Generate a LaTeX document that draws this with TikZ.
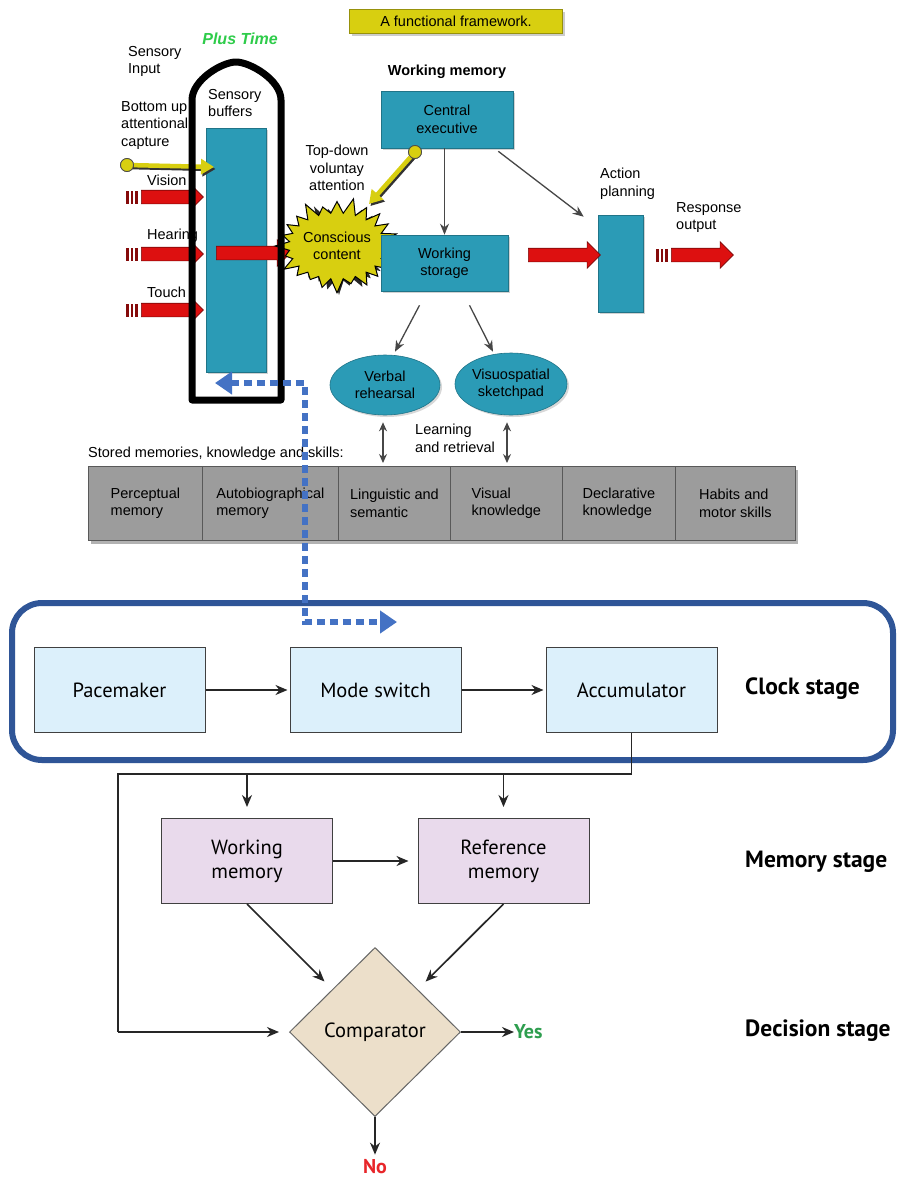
\documentclass[tikz,border=0pt]{standalone}
\usepackage{fontspec}
\setmainfont{Liberation Sans}
\newfontfamily\condsans{PT Sans}
\usetikzlibrary{shapes.geometric,shapes.symbols,shapes.arrows,arrows.meta,shadows,calc}

\definecolor{tealC}{HTML}{2B9BB6}
\definecolor{sunC}{HTML}{D8CF10}
\definecolor{redC}{HTML}{DD1010}
\definecolor{dotC}{HTML}{4472C4}
\definecolor{frameC}{HTML}{2F5597}
\definecolor{skyC}{HTML}{DCF0FB}
\definecolor{lilacC}{HTML}{E9DAEC}
\definecolor{sandC}{HTML}{ECDFCA}
\definecolor{bandC}{HTML}{9C9C9C}
\definecolor{plusC}{HTML}{2ECC4A}
\definecolor{yesC}{HTML}{2E9E4F}
\definecolor{noC}{HTML}{E8262A}

\tikzset{
  txt/.style={font=\fontsize{14.5}{17.5}\selectfont, align=left, inner sep=0pt},
  tealbox/.style={fill=tealC, draw=tealC!75!black, line width=0.6pt,
    drop shadow={opacity=0.35, shadow xshift=2pt, shadow yshift=-2pt},
    font=\fontsize{14.5}{17.5}\selectfont, align=center, inner sep=0pt},
  cell/.style={fill=bandC, draw=black!65, line width=0.8pt, minimum height=74pt,
    font=\fontsize{14.5}{17.5}\selectfont, align=left, inner sep=0pt},
  redarrow/.style={single arrow, single arrow head extend=6.5pt, single arrow head indent=0pt,
    inner xsep=0pt, inner ysep=6.5pt, fill=redC, draw=redC!55!black, line width=0.6pt},
  garrow/.style={draw=black!72, line width=1.3pt, -{Stealth[length=11pt,width=9pt]}},
  dgarrow/.style={draw=black!72, line width=1.3pt, {Stealth[length=9pt,width=8pt]}-{Stealth[length=9pt,width=8pt]}},
  sunball/.style={circle, fill=sunC, draw=black!70, line width=0.8pt, minimum size=13pt, inner sep=0pt},
  sunline/.style={line width=4.5pt, draw=sunC, -{Triangle[length=13pt,width=15pt]}},
  sunshade/.style={line width=4.5pt, draw=black!80, -{Triangle[length=13pt,width=15pt]}},
  bluedot/.style={draw=dotC, line width=6pt, dash pattern=on 8pt off 5pt,
    {Triangle[length=17pt,width=22pt]}-{Triangle[length=17pt,width=22pt]}},
  clockbox/.style={fill=skyC, draw=black!75, line width=1pt, minimum width=171pt, minimum height=85pt,
    font=\condsans\fontsize{20.5}{24}\selectfont, align=center, inner sep=0pt},
  membox/.style={clockbox, fill=lilacC, minimum height=85pt},
  stage/.style={font=\condsans\bfseries\fontsize{23.5}{26}\selectfont, anchor=west, inner sep=0pt},
  karrow/.style={draw=black!85, line width=1.7pt, -{Stealth[length=12pt,width=10pt]}},
  kline/.style={draw=black!85, line width=1.7pt},
  burst/.style={starburst, starburst points=24, starburst point height=16pt,
    minimum width=102pt, minimum height=98pt, inner sep=0pt}
}

\begin{document}
\begin{tikzpicture}[x=1pt,y=-1pt]
\useasboundingbox[fill=white] (0,0) rectangle (902,1179);

% ---------- functional framework (upper part) ----------
\node[fill=sunC, draw=sunC!70!black, line width=0.6pt, minimum width=213pt, minimum height=24pt,
  drop shadow={opacity=0.4, shadow xshift=2pt, shadow yshift=-3pt},
  font=\fontsize{14.5}{16}\selectfont] (title) at (456,21) {A functional framework.};

\node[font=\bfseries\itshape\fontsize{16}{18}\selectfont, text=plusC, inner sep=0pt] (plus) at (240,39) {Plus Time};

\node[txt, anchor=north west] (sensin) at (128,46) {Sensory\\Input};
\node[txt, anchor=north west] (bottomup) at (121,101) {Bottom up\\attentional\\capture};

% sensory buffers
\node[tealbox, minimum width=60pt, minimum height=244pt] (buf) at (236,250) {};
\node[txt, anchor=north west] (buflbl) at (208,89) {Sensory\\buffers};

% sensory inputs
\node[txt, anchor=west] (vislbl) at (147,180) {Vision};
\node[txt, anchor=west] (hearlbl) at (147,236) {Hearing};
\node[txt, anchor=west] (touchlbl) at (147,292) {Touch};
\node[redarrow, minimum height=62pt] (vis) at (169,197) {};
\node[redarrow, minimum height=62pt] (hear) at (169,254) {};
\node[redarrow, minimum height=62pt] (touch) at (169,310) {};
\foreach \yy in {197,254,310}{
  \foreach \xx in {126,130.5,135}{
    \fill[redC!60!black] (\xx,\yy-6.5) rectangle ++(2.6,13);
  }
}

% bottom-up capture
\node[sunball] (ballA) at (127,165) {};
\coordinate (tipA) at (214,167);
\draw[sunshade] ($(ballA)+(1.5,2)$) -- ($(tipA)+(1.5,2)$);
\draw[sunline] (ballA) -- (tipA);
\node[sunball] at (ballA) {};

% buffers -> conscious content
\node[redarrow, minimum height=74pt] (bufout) at (250,253) {};

% conscious content
\node[burst, fill=black!85] (ccshade) at (339,248) {};
\node[burst, fill=sunC, draw=black, line width=1pt, align=center,
  font=\fontsize{14.5}{17.5}\selectfont] (cc) at (337,246) {Conscious\\content};

\node[txt, align=center, anchor=center] (topdown) at (337,168) {Top-down\\voluntay\\attention};

% working memory
\node[font=\bfseries\fontsize{14.5}{16}\selectfont, inner sep=0pt] (wmlbl) at (447,72) {Working memory};
\node[tealbox, minimum width=132pt, minimum height=57pt] (ce) at (447,119.5) {Central\\executive};
\node[tealbox, minimum width=127pt, minimum height=56pt] (ws) at (444.5,263) {Working\\storage};

\draw[garrow] (ws.north |- ce.south) -- (ws.north);

% top-down attention
\node[sunball] (ballB) at (415,152) {};
\coordinate (tipB) at (369,204);
\draw[sunshade] ($(ballB)+(1.5,2)$) -- ($(tipB)+(1.5,2)$);
\draw[sunline] (ballB) -- (tipB);
\node[sunball] at (ballB) {};

% action planning
\node[tealbox, minimum width=45pt, minimum height=97pt] (ap) at (620.5,263.5) {};
\node[txt, anchor=north west] (aplbl) at (600,168) {Action\\planning};
\draw[garrow] ($(ce.south east)+(-15,3)$) -- ($(ap.north west)+(-14,2)$);
\node[redarrow, minimum height=72pt] (wsout) at (561,255) {};

% response output
\node[txt, anchor=north west] (resplbl) at (676,202) {Response\\output};
\node[redarrow, minimum height=62pt] (resp) at (699,255) {};
\foreach \xx in {656,660.5,665}{
  \fill[redC!60!black] (\xx,248.5) rectangle ++(2.6,13);
}

% rehearsal loops
\node[ellipse, fill=tealC, draw=tealC!75!black, line width=0.6pt, minimum width=110pt, minimum height=60pt,
  drop shadow={opacity=0.3, shadow xshift=2pt, shadow yshift=-2pt},
  font=\fontsize{14.5}{17.5}\selectfont, align=center, inner sep=0pt] (vr) at (385,385) {Verbal\\rehearsal};
\node[ellipse, fill=tealC, draw=tealC!75!black, line width=0.6pt, minimum width=112pt, minimum height=62pt,
  drop shadow={opacity=0.3, shadow xshift=2pt, shadow yshift=-2pt},
  font=\fontsize{14.5}{17.5}\selectfont, align=center, inner sep=0pt] (vs) at (511,384) {Visuospatial\\sketchpad};
\draw[garrow] ($(ws.south)+(-25,14)$) -- ($(vr.north)+(10,-3)$);
\draw[garrow] ($(ws.south)+(25,14)$) -- ($(vs.north)+(-18,-1)$);

% stored memories
\node[txt, anchor=west] (storedlbl) at (88,454) {Stored memories, knowledge and skills:};
\node[txt, anchor=north west] (lr) at (415,424) {Learning\\and retrieval};

\fill[black, opacity=0.3] (91,470) rectangle (798,544);
\node[cell, minimum width=114pt, anchor=north west] (c1) at (88,466) {Perceptual\\memory};
\node[cell, minimum width=136pt, anchor=north west] (c2) at (202,466) {Autobiographical\\memory};
\node[cell, minimum width=112pt, anchor=north west] (c3) at (338,466) {Linguistic and\\semantic};
\node[cell, minimum width=112pt, anchor=north west] (c4) at (450,466) {Visual\\knowledge};
\node[cell, minimum width=113pt, anchor=north west] (c5) at (562,466) {Declarative\\knowledge};
\node[cell, minimum width=120pt, anchor=north west] (c6) at (675,466) {Habits and\\motor skills};

\coordinate (vrb) at ($(vr.south)+(-2,0)$);
\coordinate (vsb) at ($(vs.south)+(-4,0)$);
\draw[dgarrow, shorten <=7pt, shorten >=3pt] (vrb) -- (vrb |- c3.north);
\draw[dgarrow, shorten <=7pt, shorten >=3pt] (vsb) -- (vsb |- c4.north);

% sensory buffer outline
\draw[line width=7pt, line join=round] (192,400) -- (192,100)
  .. controls (192,80) and (222,62) .. (236,62)
  .. controls (250,62) and (281,80) .. (281,100) -- (281,400) -- cycle;

% ---------- clock model (lower part) ----------
\node[draw=frameC, line width=6pt, rounded corners=30pt, minimum width=881pt, minimum height=157pt] (frame) at (452.5,681.5) {};

\node[clockbox] (pace) at (119.5,690) {Pacemaker};
\node[clockbox] (mode) at (375.5,690) {Mode switch};
\node[clockbox] (acc) at (631.5,690) {Accumulator};
\draw[karrow, shorten >=2pt] (pace) -- (mode);
\draw[karrow, shorten >=2pt] (mode) -- (acc);
\node[stage] (clocklbl) at (745,689) {Clock stage};

% time signal linking both parts
\coordinate (bufin) at (215,383);
\coordinate (bendA) at (305,383);
\coordinate (bendB) at (305,622);
\coordinate (clockin) at (397,622);
\draw[bluedot] (bufin) -- (bendA) -- (bendB) -- (clockin);

\node[membox] (wm) at (247,861) {Working\\memory};
\node[membox] (rm) at (503.5,861) {Reference\\memory};
\node[stage] (memlbl) at (745,862) {Memory stage};

\node[diamond, fill=sandC, draw=black!60, line width=1pt, minimum width=171pt, minimum height=169pt,
  inner sep=0pt, font=\condsans\fontsize{20.5}{24}\selectfont] (comp) at (375,1032) {Comparator};
\node[stage] (declbl) at (745,1031) {Decision stage};

\coordinate (feedA) at (118,774);
\draw[kline] (acc.south) |- (feedA) -- (feedA |- comp.west);
\draw[karrow, shorten >=10pt] (feedA |- comp.west) -- (comp.west);
\draw[karrow, shorten >=11pt] (wm.north |- feedA) -- (wm.north);
\draw[karrow, shorten >=11pt] (rm.north |- feedA) -- (rm.north);
\draw[karrow, shorten >=9pt] (wm) -- (rm);
\draw[karrow, shorten >=11pt] (wm.south) -- (comp);
\draw[karrow, shorten >=11pt] (rm.south) -- (comp);

\node[font=\condsans\bfseries\fontsize{20}{22}\selectfont, text=yesC, anchor=west, inner sep=0pt] (yes) at (514,1032) {Yes};
\draw[karrow] (comp.east) -- (yes.west);
\node[font=\condsans\bfseries\fontsize{20}{22}\selectfont, text=noC, inner sep=0pt] (no) at (375,1167) {No};
\draw[karrow] (comp.south) -- ($(no.north)+(0,-5)$);
\end{tikzpicture}
\end{document}
